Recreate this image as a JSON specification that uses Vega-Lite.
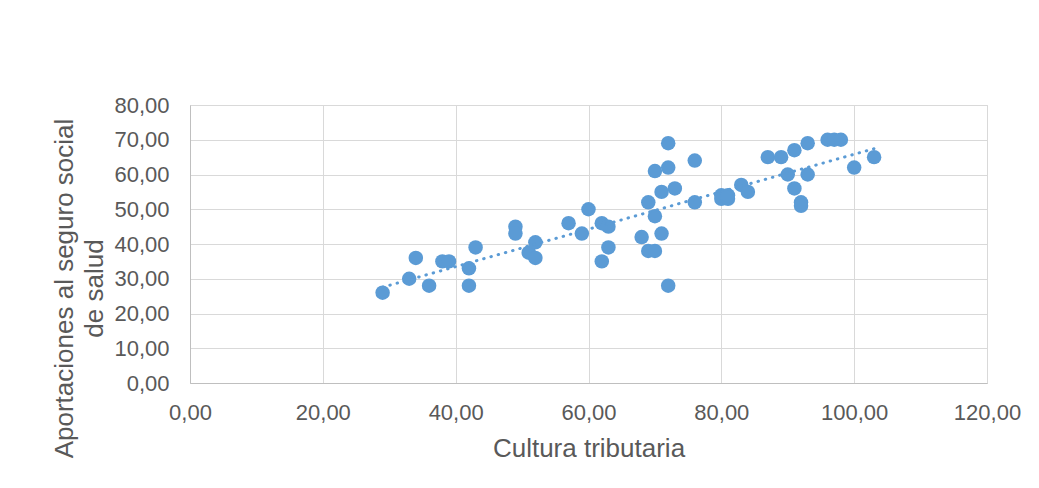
{
  "$schema": "https://vega.github.io/schema/vega-lite/v6.json",
  "autosize": {"type": "none"},
  "padding": {"left": 190, "top": 105, "right": 52, "bottom": 105},
  "width": 797,
  "height": 278,
  "background": "white",
  "config": {
    "font": "Liberation Sans",
    "view": {"stroke": "#d9d9d9"},
    "axis": {
      "gridColor": "#d9d9d9",
      "domainColor": "#bfbfbf",
      "ticks": false,
      "labelFlush": false,
      "labelColor": "#595959",
      "titleColor": "#595959",
      "labelFontSize": 22,
      "titleFontSize": 26,
      "titleFontWeight": "normal",
      "labelFont": "Liberation Sans",
      "titleFont": "Liberation Sans"
    }
  },
  "data": {
    "values": [
      {"x": 29, "y": 26}, {"x": 33, "y": 30}, {"x": 34, "y": 36}, {"x": 36, "y": 28},
      {"x": 38, "y": 35}, {"x": 39, "y": 35}, {"x": 42, "y": 33}, {"x": 42, "y": 28},
      {"x": 43, "y": 39}, {"x": 49, "y": 45}, {"x": 49, "y": 43}, {"x": 51, "y": 37.5},
      {"x": 52, "y": 40.5}, {"x": 52, "y": 36}, {"x": 57, "y": 46}, {"x": 59, "y": 43},
      {"x": 60, "y": 50}, {"x": 62, "y": 46}, {"x": 63, "y": 45}, {"x": 63, "y": 39},
      {"x": 62, "y": 35}, {"x": 68, "y": 42}, {"x": 69, "y": 38}, {"x": 70, "y": 38},
      {"x": 70, "y": 48}, {"x": 71, "y": 43}, {"x": 69, "y": 52}, {"x": 70, "y": 61},
      {"x": 71, "y": 55}, {"x": 72, "y": 62}, {"x": 72, "y": 69}, {"x": 73, "y": 56},
      {"x": 72, "y": 28}, {"x": 76, "y": 64}, {"x": 76, "y": 52}, {"x": 80, "y": 54},
      {"x": 80, "y": 53}, {"x": 81, "y": 53}, {"x": 81, "y": 54}, {"x": 83, "y": 57},
      {"x": 84, "y": 55}, {"x": 87, "y": 65}, {"x": 89, "y": 65}, {"x": 91, "y": 67},
      {"x": 93, "y": 69}, {"x": 90, "y": 60}, {"x": 91, "y": 56}, {"x": 92, "y": 52},
      {"x": 92, "y": 51}, {"x": 93, "y": 60}, {"x": 96, "y": 70}, {"x": 97, "y": 70},
      {"x": 98, "y": 70}, {"x": 100, "y": 62}, {"x": 103, "y": 65}
    ]
  },
  "encoding": {
    "x": {
      "field": "x", "type": "quantitative",
      "scale": {"domain": [0, 120], "nice": false},
      "axis": {
        "values": [0, 20, 40, 60, 80, 100, 120],
        "labelExpr": "replace(format(datum.value, '.2f'), '.', ',')",
        "title": "Cultura tributaria",
        "labelPadding": 19,
        "titlePadding": 12
      }
    },
    "y": {
      "field": "y", "type": "quantitative",
      "scale": {"domain": [0, 80], "nice": false},
      "axis": {
        "values": [0, 10, 20, 30, 40, 50, 60, 70, 80],
        "labelExpr": "replace(format(datum.value, '.2f'), '.', ',')",
        "title": ["Aportaciones al seguro social", "de salud"],
        "labelPadding": 21,
        "titlePadding": 6,
        "titleLineHeight": 30,
        "titleY": 183
      }
    }
  },
  "layer": [
    {
      "mark": {"type": "circle", "size": 210, "opacity": 1, "color": "#5b9bd5"}
    },
    {
      "transform": [{"regression": "y", "on": "x"}],
      "mark": {"type": "line", "color": "#5b9bd5", "strokeWidth": 3, "strokeDash": [0.5, 7], "strokeCap": "round"}
    }
  ]
}
